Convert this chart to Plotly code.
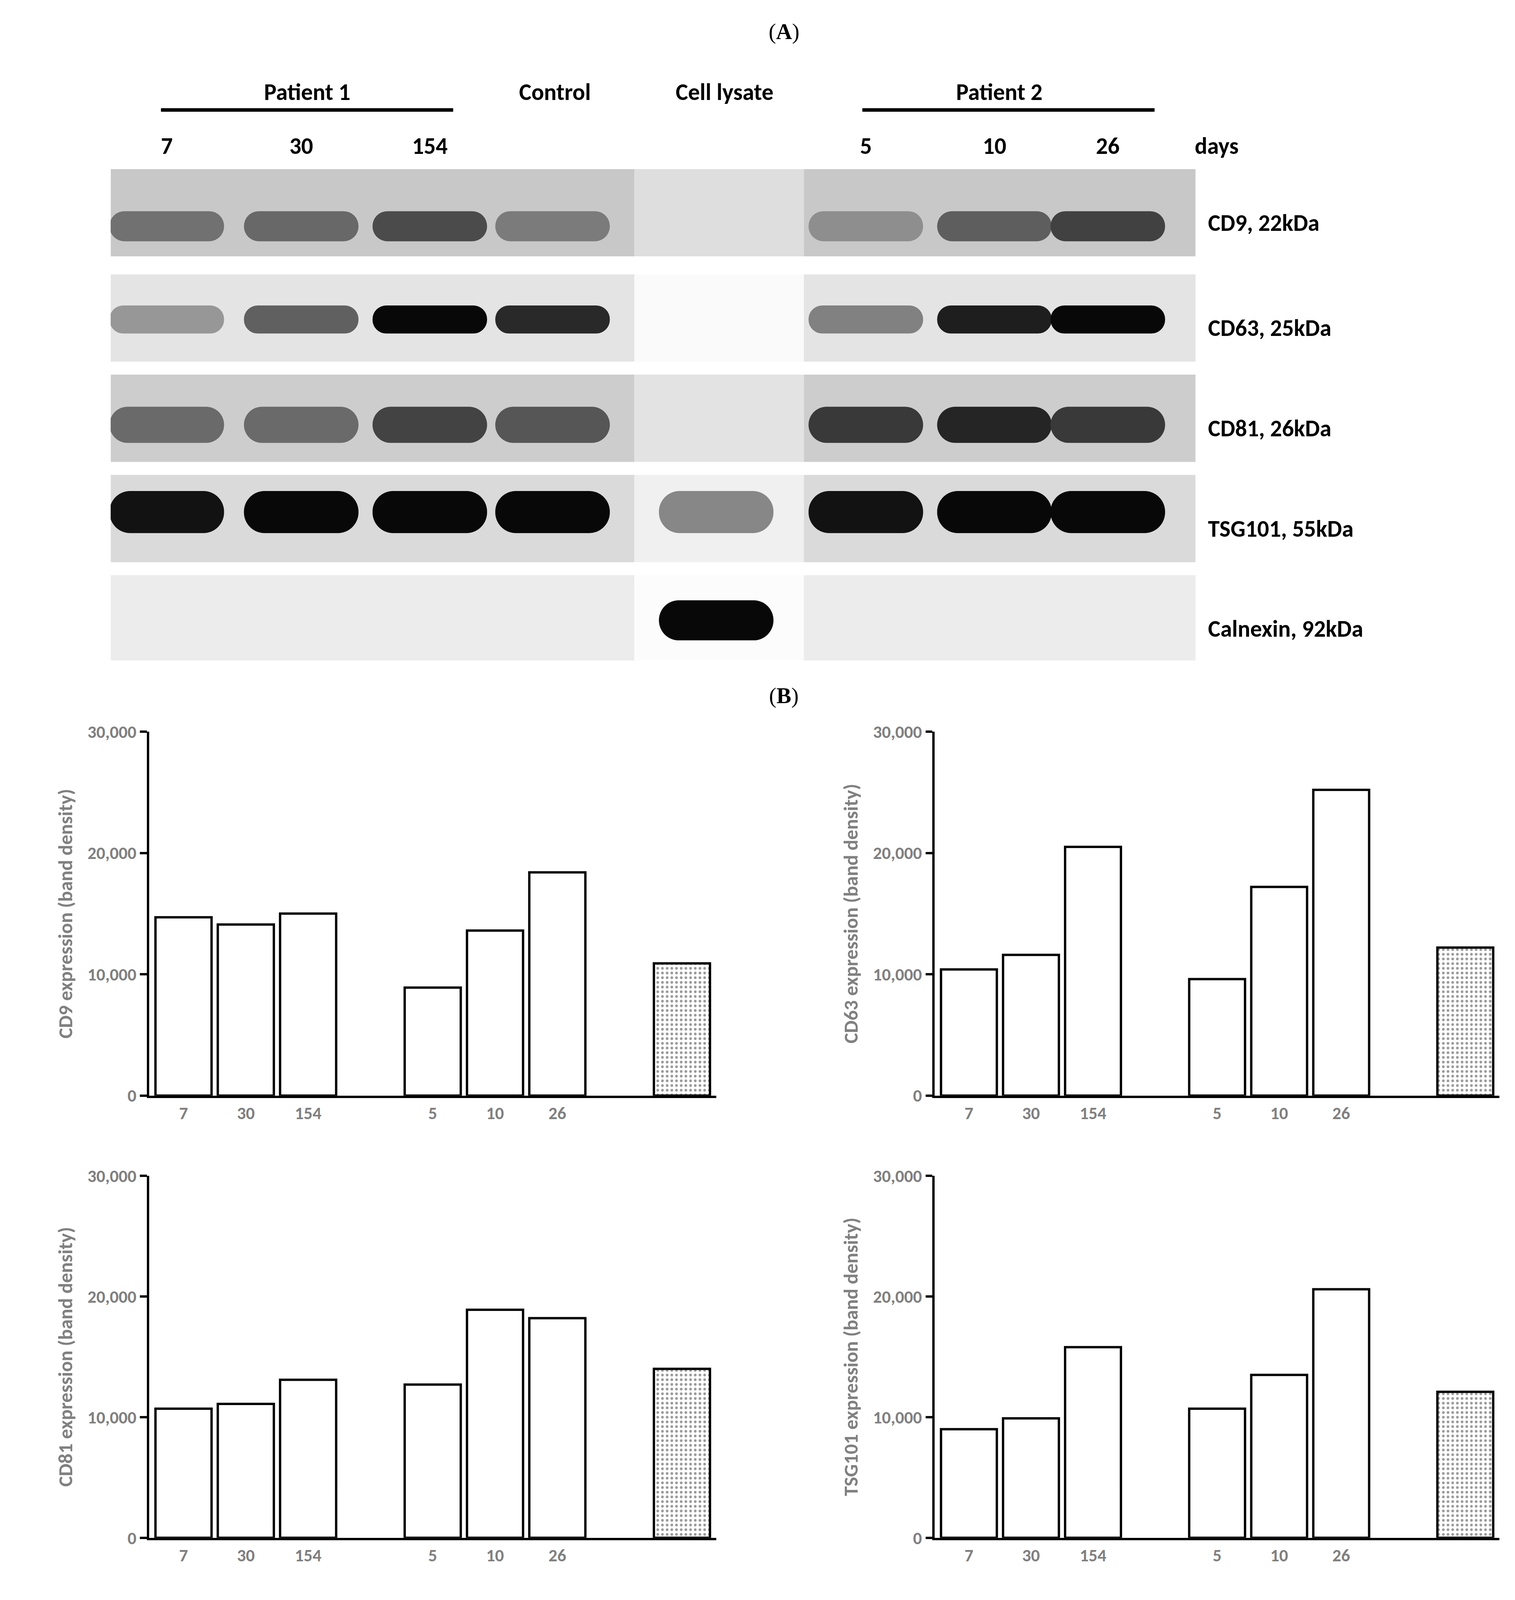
import plotly.graph_objects as go

W, H = 3879, 4080  # visible viewport is shorter than requested
S = W / 1296.0  # reference drawn in 1296-wide units

# ---- panel A: western blot ----
LANES = ["7", "30", "154", "Control", "Cell lysate", "5", "10", "26"]
LANE_X = [140, 255, 365, 470, 610, 738, 848, 945]
PROTEINS = ["CD9, 22kDa", "CD63, 25kDa", "CD81, 26kDa", "TSG101, 55kDa", "Calnexin, 92kDa"]
ROW_TOP = [155, 260, 360, 460, 560]
ROW_H = 87
BAND_Y = [212, 305, 410, 497, 605]
BAND_H = [30, 28, 36, 42, 40]
ROW_BG = [200, 228, 205, 218, 236]
BAND_INT = [
    [0.45, 0.50, 0.65, 0.40, 0.0, 0.30, 0.55, 0.70],
    [0.35, 0.60, 1.00, 0.85, 0.0, 0.45, 0.90, 1.00],
    [0.50, 0.50, 0.70, 0.60, 0.0, 0.75, 0.85, 0.75],
    [0.95, 1.00, 1.00, 1.00, 0.45, 0.95, 1.00, 1.00],
    [0.00, 0.00, 0.00, 0.00, 1.00, 0.00, 0.00, 0.00],
]

# ---- panel B: band densities ----
DAYS = ["7", "30", "154", "5", "10", "26"]
CD9 = [14700, 14100, 15000, 8900, 13600, 18400]
CD63 = [10400, 11600, 20500, 9600, 17200, 25200]
CD81 = [10700, 11100, 13100, 12700, 18900, 18200]
TSG101 = [9000, 9900, 15800, 10700, 13500, 20600]
CONTROL = [10900, 12200, 14000, 12100]
BAR_POS = [0, 1, 2, 4, 5, 6]
CONTROL_POS = 8

fig = go.Figure()
FONT = "Calibri, Carlito, Open Sans, DejaVu Sans"


def px(x):
    return x / 1296


def py(y):
    return 1 - y / 1568


def label(x, y, txt, size=20, anchor="center"):
    fig.add_annotation(x=px(x), y=py(y), xref="paper", yref="paper", text=txt, showarrow=False,
                       xanchor=anchor, yanchor="middle", font=dict(size=size * S, color="black", family=FONT))


# blot axes (display units)
fig.update_layout(
    xaxis5=dict(domain=[px(92), px(1020)], range=[92, 1020], visible=False, anchor="y5"),
    yaxis5=dict(domain=[py(645), py(155)], range=[645, 155], visible=False, anchor="x5"),
)
shapes = []
for i in range(len(PROTEINS)):
    g = ROW_BG[i]
    gl = min(252, g + 22)
    for x0, x1, c in [(92, 540, g), (540, 685, gl), (685, 1020, g)]:
        shapes.append(dict(type="rect", xref="x5", yref="y5", x0=x0, x1=x1,
                           y0=ROW_TOP[i], y1=ROW_TOP[i] + ROW_H, line_width=0,
                           fillcolor=f"rgb({c},{c},{c})", layer="below"))
    cols = []
    for j, v in enumerate(BAND_INT[i]):
        b = gl if LANES[j] == "Cell lysate" else g
        if v == 0:
            cols.append("rgba(0,0,0,0)")
        else:
            c = int(b - v * (b - 8))
            cols.append(f"rgb({c},{c},{c})")
    fig.add_trace(go.Bar(x=LANE_X, y=[BAND_H[i]] * len(LANE_X),
                         base=[BAND_Y[i] - BAND_H[i] / 2] * len(LANE_X),
                         width=98, marker=dict(color=cols, line_width=0, cornerradius="40%"),
                         xaxis="x5", yaxis="y5", showlegend=False, hoverinfo="skip"))
    label(1030, ROW_TOP[i] + ROW_H / 2 + 10, f"<b>{PROTEINS[i]}</b>", anchor="left")

for lx, lab in zip(LANE_X, LANES):
    if lab.isdigit():
        label(lx, 132, f"<b>{lab}</b>")
for txt, x in [("Patient 1", 260), ("Control", 472), ("Cell lysate", 617), ("Patient 2", 852)]:
    label(x, 78, f"<b>{txt}</b>")
label(1038, 132, "<b>days</b>")
for x0, x1 in [(135, 385), (735, 985)]:
    shapes.append(dict(type="line", xref="paper", yref="paper", x0=px(x0), x1=px(x1), y0=py(96), y1=py(96),
                       line=dict(color="black", width=3 * S)))

for txt, yy in [("(<b>A</b>)", 18), ("(<b>B</b>)", 680)]:
    fig.add_annotation(x=px(668), y=py(yy), xref="paper", yref="paper", text=txt, showarrow=False,
                       yanchor="middle", font=dict(size=19 * S, color="black", family="Liberation Serif"))

# bar charts
panels = [("CD9", CD9, 1, [125, 610], [716, 1079]),
          ("CD63", CD63, 2, [797, 1280], [716, 1079]),
          ("CD81", CD81, 3, [125, 610], [1159, 1520]),
          ("TSG101", TSG101, 4, [797, 1280], [1159, 1520])]
GRAY = "#808080"
for k, (name, vals, n, xd, yd) in enumerate(panels):
    xa, ya = f"x{n}", f"y{n}"
    fig.add_trace(go.Bar(x=BAR_POS, y=vals, width=0.9, xaxis=xa, yaxis=ya, showlegend=False,
                         marker=dict(color="white", line=dict(color="black", width=2 * S))))
    fig.add_trace(go.Bar(x=[CONTROL_POS], y=[CONTROL[k]], width=0.9, xaxis=xa, yaxis=ya, showlegend=False,
                         marker=dict(color="white", line=dict(color="black", width=2 * S),
                                     pattern=dict(shape=".", fgcolor="#333", bgcolor="white", size=12, solidity=0.25))))
    fig.layout[f"xaxis{n}"] = dict(domain=[px(xd[0]), px(xd[1])], anchor=ya, range=[-0.55, 8.55],
                                   tickvals=BAR_POS, ticktext=[f"<b>{d}</b>" for d in DAYS],
                                   showline=True, linecolor="black", linewidth=2 * S, ticks="",
                                   tickfont=dict(size=15 * S, color=GRAY, family=FONT), showgrid=False, zeroline=False)
    fig.layout[f"yaxis{n}"] = dict(domain=[py(yd[1]), py(yd[0])], anchor=xa, range=[0, 30000],
                                   tickvals=[0, 10000, 20000, 30000],
                                   ticktext=["<b>0</b>", "<b>10,000</b>", "<b>20,000</b>", "<b>30,000</b>"],
                                   showline=True, linecolor="black", linewidth=2 * S, ticks="outside",
                                   ticklen=6 * S, tickwidth=2 * S, tickcolor="black", showgrid=False, zeroline=False,
                                   tickfont=dict(size=15 * S, color=GRAY, family=FONT),
                                   title=dict(text=f"<b>{name} expression (band density)</b>", standoff=8 * S,
                                              font=dict(size=17 * S, color=GRAY, family=FONT)))

fig.update_layout(width=W, height=H, margin=dict(l=0, r=0, t=0, b=0), plot_bgcolor="white",
                  paper_bgcolor="white", shapes=shapes, barmode="overlay")
fig.write_html("out.html")
